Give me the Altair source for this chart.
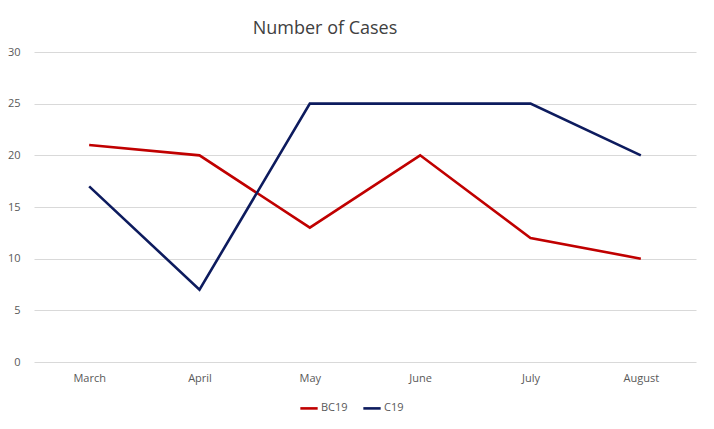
import altair as alt
import pandas as pd

months = ["March", "April", "May", "June", "July", "August"]
bc19 = [21, 20, 13, 20, 12, 10]
c19 = [17, 7, 25, 25, 25, 20]
series = ["BC19", "C19"]
colors = ["#C00000", "#0D1B5E"]

rows = []
for m, a, b in zip(months, bc19, c19):
    rows.append({"Month": m, "Series": "BC19", "Cases": a})
    rows.append({"Month": m, "Series": "C19", "Cases": b})
df = pd.DataFrame(rows)

font = "Open Sans"

chart = alt.Chart(df).mark_line(strokeWidth=2.6, strokeCap="butt").encode(
    x=alt.X("Month:N", sort=months, title=None,
            scale=alt.Scale(paddingInner=0, paddingOuter=0),
            axis=alt.Axis(labelAngle=0, domain=False, ticks=False, grid=False,
                          labelColor="#595959", labelFontSize=11, labelFont=font,
                          labelPadding=10)),
    y=alt.Y("Cases:Q", title=None,
            scale=alt.Scale(domain=[0, 30], nice=False),
            axis=alt.Axis(values=[0, 5, 10, 15, 20, 25, 30], domain=False, ticks=False,
                          gridColor="#D9D9D9", gridWidth=1,
                          labelColor="#595959", labelFontSize=11, labelFont=font,
                          labelPadding=14)),
    color=alt.Color("Series:N", scale=alt.Scale(domain=series, range=colors),
                    legend=alt.Legend(title=None, orient="none", direction="horizontal",
                                      legendX=265, legendY=346,
                                      symbolType="stroke", symbolStrokeWidth=2.6,
                                      symbolSize=300, labelFont=font, labelFontSize=11,
                                      labelColor="#595959", columnPadding=10, labelOffset=2)),
).properties(
    width=662, height=310,
    title=alt.TitleParams("Number of Cases", font=font, fontSize=18, fontWeight="normal",
                          color="#404040", anchor="middle", dx=-40, offset=8),
    autosize=alt.AutoSizeParams(type="none"),
    padding={"left": 26, "top": 44, "right": 10, "bottom": 59},
).configure(background="white").configure_view(stroke=None, strokeWidth=0)

chart.save("out.html", embed_options={"renderer": "svg", "actions": False})
